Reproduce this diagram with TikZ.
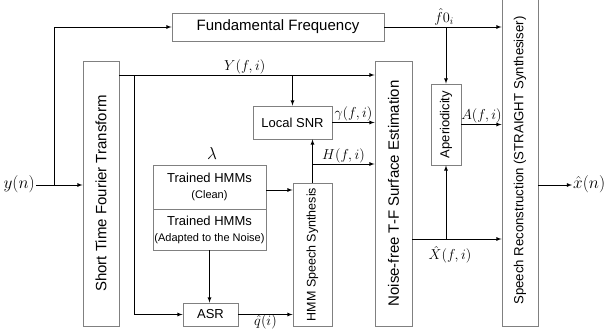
\documentclass[tikz,border=0pt]{standalone}
\usepackage{amsmath}
\usepackage{fontspec}
\setmainfont{Liberation Sans}
\usepackage{tikz}
\usetikzlibrary{arrows, positioning, calc}
\definecolor{BOX}{HTML}{808080}
\tikzset{
  BLK/.style={% Style for plain boxes
      rectangle, line width=0.9pt,
      draw=BOX,
      align=center,
      inner sep=0pt,
      font=\fontsize{13}{15}\selectfont,
  },
  VBLK/.style={% Style for tall boxes, text turned up
      BLK,
      rotate=90,
      font=\fontsize{15}{17}\selectfont,
  },
  sig/.style={% Signal lines
      ->, >=latex, line width=0.8pt, draw=black,
  },
  lbl/.style={font=\fontsize{14}{16}\selectfont, inner sep=1pt},
}
\begin{document}
\begin{tikzpicture}[x=1pt, y=-1pt]
  \useasboundingbox (0,0) rectangle (607,333);
  % blocks
  \node[BLK, minimum width=212, minimum height=28, font=\fontsize{15}{17}\selectfont] (ff) at (278,27) {Fundamental Frequency};
  \node[VBLK, minimum width=265, minimum height=36] (stft) at (101,193.5) {Short Time Fourier Transform};
  \node[BLK, minimum width=79, minimum height=33] (snr) at (292.5,122.5) {Local SNR};
  \node[BLK, minimum width=113, minimum height=44] (hmmc) at (209.5,187) {Trained HMMs\\[1pt]{\fontsize{11}{13}\selectfont (Clean)}};
  \node[BLK, minimum width=113, minimum height=41] (hmma) at (209.5,229.5) {Trained HMMs\\[1pt]{\fontsize{11}{13}\selectfont (Adapted to the Noise)}};
  \node[BLK, minimum width=55, minimum height=23] (asr) at (210.5,314.5) {ASR};
  \node[VBLK, minimum width=143, minimum height=39, font=\fontsize{12.5}{14}\selectfont] (hss) at (312.5,254.5) {HMM Speech Synthesis};
  \node[VBLK, minimum width=265, minimum height=37] (nfe) at (393.5,193.5) {Noise-free T-F Surface Estimation};
  \node[VBLK, minimum width=81, minimum height=30, font=\fontsize{13}{15}\selectfont] (aper) at (446,124.5) {Aperiodicity};
  \node[VBLK, minimum width=331, minimum height=36, font=\fontsize{13.2}{15}\selectfont] (src) at (520,160.5) {Speech Reconstruction (STRAIGHT Synthesiser)};
  \node[font=\fontsize{17}{19}\selectfont] (lam) at (212,153) {$\lambda$};
  % input and output
  \node[lbl, anchor=east, font=\fontsize{16}{18}\selectfont] (yn) at (36,184) {$y(n)$};
  \node[lbl, anchor=west, font=\fontsize{16}{18}\selectfont] (xn) at (572,184) {$\hat{x}(n)$};
  \coordinate (br) at (54,185);
  \coordinate (ysplit) at (134,75);
  \coordinate (ysnr) at (292.5,75);
  \coordinate (hsplit) at (312.5,164);
  \coordinate (fsplit) at (446,27);
  \coordinate (xsplit) at (446,239);
  % connectors
  \draw[sig] (yn.east |- br) -- (stft.north |- br);
  \draw[sig] (br) |- (ff.west);
  \draw[sig] (stft.south |- ysplit) -- node[lbl, above, pos=0.46, xshift=8pt] {$Y(f,i)$} (nfe.north |- ysplit);
  \draw[sig] (ysplit) |- (asr.west);
  \draw[sig] (ysnr) -- (snr.north);
  \draw[sig] (snr.east) -- node[lbl, above] {$\gamma(f,i)$} (nfe.north |- snr.east);
  \draw[sig] (hss.east) -- (hss.east |- snr.south);
  \draw[sig] (hsplit) -- node[lbl, above] {$H(f,i)$} (nfe.north |- hsplit);
  \draw[sig] ($(hmmc.east)+(0,3)$) -- (hss.north |- {$(hmmc.east)+(0,3)$});
  \draw[sig] (hmma.south) -- (hmma.south |- asr.north);
  \draw[sig] (asr.east) -- node[lbl, below=-1pt, pos=0.5] {$\hat{q}(i)$} (hss.north |- asr.east);
  \draw[sig] (ff.east) -- (src.north |- ff.east);
  \node[lbl, above=1pt of fsplit, xshift=-2pt] (f0) {$\hat{f}0_i$};
  \draw[sig] (fsplit) -- (aper.east);
  \draw[sig] (aper.south) -- node[lbl, above] {$A(f,i)$} (src.north |- aper.south);
  \draw[sig] (nfe.south |- xsplit) -- (src.north |- xsplit);
  \node[lbl, below=6pt of xsplit, xshift=4pt] (xh) {$\hat{X}(f,i)$};
  \draw[sig] (xsplit) -- (aper.west);
  \draw[sig] (src.south |- br) -- (xn.west |- br);
\end{tikzpicture}
\end{document}
